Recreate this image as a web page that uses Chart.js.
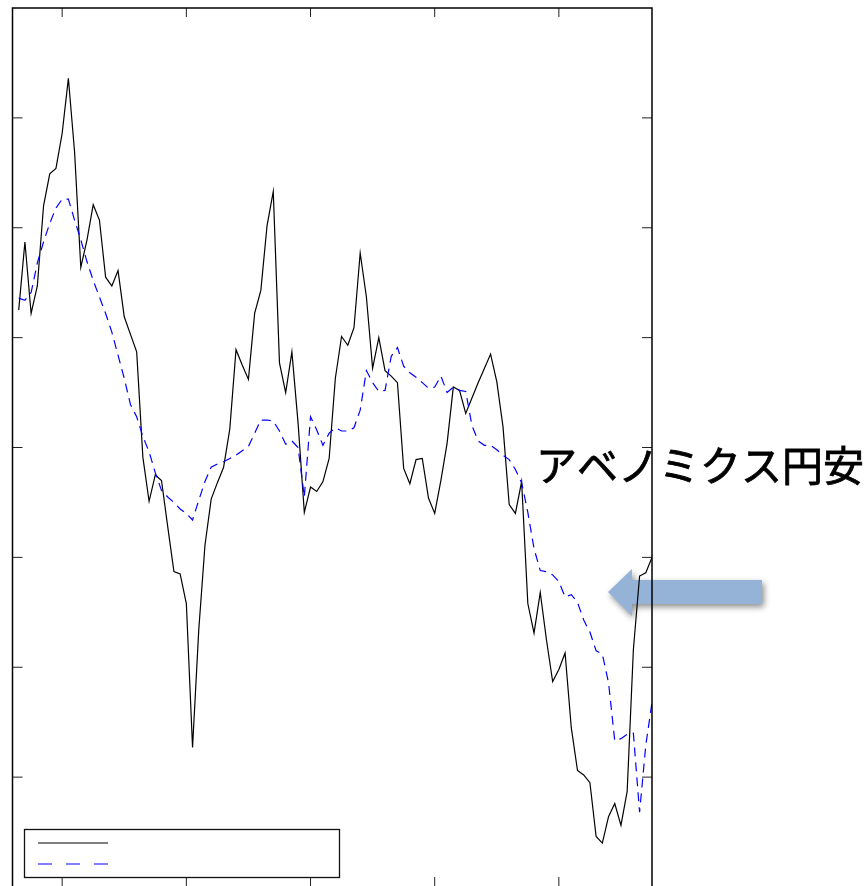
<!DOCTYPE html>
<html lang="ja">
<head>
<meta charset="utf-8">
<title>アベノミクス円安</title>
<script src="https://cdn.jsdelivr.net/npm/chart.js@4.4.1/dist/chart.umd.min.js"></script>
<style>
  html, body { margin: 0; padding: 0; background: #ffffff; overflow: hidden; }
  #wrap { width: 866px; height: 888px; }
  canvas { display: block; }
</style>
</head>
<body>
<div id="wrap"><canvas id="chart" width="866" height="888"></canvas></div>
<script>
// Period numbers along the horizontal axis (one per observation).
const periods = Array.from({ length: 103 }, (_, i) => i);

// Solid black series.
const solidSeries = [
  112.5, 118.7, 112.2, 114.7, 122.0, 124.9, 125.4, 128.6, 133.6, 126.9,
  116.4, 118.9, 122.1, 120.7, 115.5, 114.7, 116.1, 111.9, 110.3, 108.7,
  99.1, 95.1, 97.5, 97.0, 92.8, 88.7, 88.5, 85.8, 72.7, 83.4,
  91.1, 95.3, 96.8, 98.2, 101.7, 108.9, 107.5, 106.2, 112.2, 114.3,
  120.2, 123.3, 107.7, 105.0, 108.7, 102.2, 94.1, 96.4, 96.0, 96.9,
  99.0, 106.3, 110.1, 109.3, 110.9, 117.7, 113.7, 107.2, 110.0, 107.0,
  106.5, 105.9, 98.1, 96.7, 98.9, 99.0, 95.4, 94.0, 97.0, 100.4,
  105.5, 105.2, 103.1, 104.5, 105.9, 107.2, 108.5, 106.0, 101.9, 94.8,
  94.0, 96.9, 85.8, 83.1, 86.8, 82.5, 78.7, 79.8, 81.3, 74.5,
  70.6, 70.2, 69.5, 64.6, 64.0, 66.4, 67.6, 65.6, 68.7, 81.6,
  88.3, 88.6, 90.0
];

// Dashed blue series.
const dashedSeries = [
  113.6, 113.4, 114.1, 116.8, 118.7, 120.4, 121.8, 122.6, 122.6, 120.7,
  118.9, 116.9, 115.2, 113.7, 112.2, 110.5, 108.4, 106.3, 103.9, 102.8,
  101.0, 99.6, 97.7, 96.1, 95.5, 95.0, 94.4, 94.0, 93.4, 95.2,
  96.9, 98.2, 98.5, 98.7, 99.0, 99.3, 99.7, 100.1, 101.3, 102.5,
  102.5, 102.4, 101.5, 100.3, 100.6, 100.0, 95.5, 102.8, 101.6, 100.2,
  101.3, 101.8, 101.5, 101.5, 101.8, 103.4, 107.0, 105.9, 105.1, 105.2,
  108.3, 109.1, 107.4, 106.8, 106.4, 105.9, 105.4, 105.5, 106.5, 105.0,
  105.5, 105.2, 105.1, 102.0, 100.6, 100.2, 100.2, 99.8, 99.3, 98.9,
  98.0, 96.8, 94.1, 90.8, 88.8, 88.7, 88.4, 87.8, 86.4, 86.6,
  85.9, 84.3, 83.2, 81.5, 81.2, 78.6, 73.3, 73.5, 73.9, 74.0,
  66.8, 72.9, 76.8
];

// Tick positions (marks only, no labels).
const xTickPositions = [7, 27, 47, 67, 87];
const yTickValues = [70, 80, 90, 100, 110, 120, 130];

const annotationText = 'アベノミクス円安';

// Callout text with a left-pointing block arrow beside the plot.
const calloutPlugin = {
  id: 'callout',
  beforeDatasetsDraw(chart) {
    const ctx = chart.ctx;
    ctx.save();
    ctx.fillStyle = '#000000';
    ctx.strokeStyle = '#000000';
    ctx.lineWidth = 0.8;
    ctx.font = '41px "Noto Sans CJK JP", sans-serif';
    ctx.textBaseline = 'alphabetic';
    ctx.textAlign = 'left';
    ctx.fillText(annotationText, 536, 481);
    ctx.strokeText(annotationText, 536, 481);

    ctx.shadowColor = 'rgba(0,0,0,0.45)';
    ctx.shadowBlur = 6;
    ctx.shadowOffsetX = 2;
    ctx.shadowOffsetY = 3;
    ctx.fillStyle = '#95B3D7';
    ctx.beginPath();
    ctx.moveTo(608, 592);
    ctx.lineTo(632, 569);
    ctx.lineTo(632, 580);
    ctx.lineTo(762, 580);
    ctx.lineTo(762, 604);
    ctx.lineTo(632, 604);
    ctx.lineTo(632, 616);
    ctx.closePath();
    ctx.fill();
    ctx.restore();
  }
};

// Box frame, inward tick marks and the legend box.
const framePlugin = {
  id: 'frame',
  afterDatasetsDraw(chart) {
    const ctx = chart.ctx;
    const a = chart.chartArea;
    const xs = chart.scales.x;
    const ys = chart.scales.y;
    ctx.save();

    ctx.strokeStyle = '#222222';
    ctx.lineWidth = 1;
    ctx.beginPath();
    yTickValues.forEach(v => {
      const y = ys.getPixelForValue(v);
      ctx.moveTo(a.left, y); ctx.lineTo(a.left + 10, y);
      ctx.moveTo(a.right, y); ctx.lineTo(a.right - 10, y);
    });
    xTickPositions.forEach(v => {
      const x = xs.getPixelForValue(v);
      ctx.moveTo(x, a.top); ctx.lineTo(x, a.top + 9);
      ctx.moveTo(x, a.bottom); ctx.lineTo(x, a.bottom - 10);
    });
    ctx.stroke();

    ctx.strokeStyle = '#000000';
    ctx.lineWidth = 1.5;
    ctx.strokeRect(a.left, a.top, a.right - a.left, a.bottom - a.top);

    // legend
    ctx.fillStyle = '#ffffff';
    ctx.fillRect(24.5, 829.5, 315, 48);
    ctx.lineWidth = 1.3;
    ctx.strokeStyle = '#111111';
    ctx.strokeRect(24.5, 829.5, 315, 48);

    ctx.lineWidth = 1;
    ctx.strokeStyle = '#000000';
    ctx.beginPath();
    ctx.moveTo(38, 843); ctx.lineTo(108, 843);
    ctx.stroke();

    ctx.strokeStyle = '#0000ff';
    ctx.setLineDash([14, 14]);
    ctx.beginPath();
    ctx.moveTo(38, 864); ctx.lineTo(108, 864);
    ctx.stroke();
    ctx.setLineDash([]);

    ctx.restore();
  }
};

new Chart(document.getElementById('chart'), {
  type: 'line',
  data: {
    datasets: [
      {
        data: periods.map((p, k) => ({ x: p, y: solidSeries[k] })),
        borderColor: '#000000',
        borderWidth: 1.2,
        pointRadius: 0,
        tension: 0,
        fill: false,
        order: 1
      },
      {
        data: periods.map((p, k) => ({ x: p, y: dashedSeries[k] })),
        borderColor: '#0000ff',
        borderWidth: 1.2,
        borderDash: [9, 6],
        pointRadius: 0,
        tension: 0,
        fill: false,
        order: 0
      }
    ]
  },
  options: {
    responsive: false,
    animation: false,
    devicePixelRatio: 1,
    layout: { padding: { left: 12.5, top: 8, right: 214, bottom: 1 } },
    scales: {
      x: { type: 'linear', min: -1, max: 102, display: false },
      y: { type: 'linear', min: 60, max: 140, display: false }
    },
    plugins: {
      legend: { display: false },
      tooltip: { enabled: false }
    }
  },
  plugins: [calloutPlugin, framePlugin]
});
</script>
</body>
</html>
